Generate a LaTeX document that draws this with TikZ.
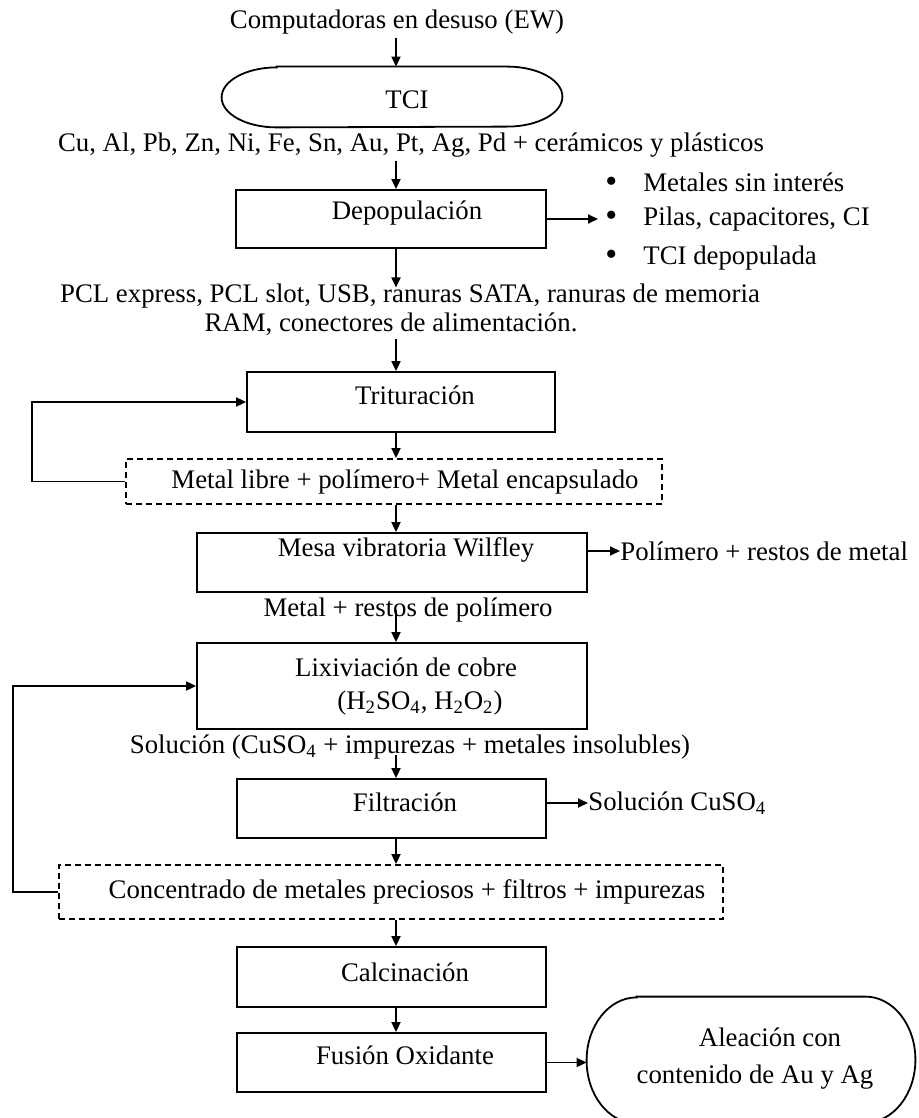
\documentclass[tikz,border=0pt]{standalone}
\usepackage{fontspec}
\setmainfont{Liberation Serif}
\usetikzlibrary{arrows.meta,fit,calc}
\newcommand{\fsz}{\fontsize{13.4pt}{16pt}\selectfont}
\newcommand{\bul}{\makebox[19pt][l]{\raisebox{-0.6pt}{\fontsize{17pt}{17pt}\selectfont\textbullet}}}
\begin{document}
\begin{tikzpicture}[x=0.5pt,y=-0.5pt,
  line/.style={line width=0.9pt, draw=black},
  arr/.style={line, -{Triangle[length=5pt,width=4.5pt]}},
  pbox/.style={line, inner sep=0pt},
  dbox/.style={pbox, dash pattern=on 3pt off 2pt},
  ghost/.style={inner sep=0pt},
  txt/.style={inner sep=1.5pt, font=\fsz},
  wtxt/.style={txt, anchor=west, inner sep=0pt}]
\useasboundingbox (0,0) rectangle (918,1118);
\fill[white] (0,0) rectangle (918,1118);
\coordinate (cx) at (396,0);
\coordinate (lx1) at (32,0);
\coordinate (lx2) at (13,0);

% source and start terminator
\node[txt] (src) at (397,22) {Computadoras en desuso (EW)};
\node[ghost, fit={(222,67) (562,127)}] (tci) {};
\draw[line] ([xshift=27.5pt]tci.north west) -- ([xshift=-27.5pt]tci.north east)
  arc[start angle=90,end angle=-90,x radius=27.5pt,y radius=15pt]
  -- ([xshift=27.5pt]tci.south west)
  arc[start angle=270,end angle=90,x radius=27.5pt,y radius=15pt] -- cycle;
\node[txt] (tcilab) at (407,100) {TCI};
\node[txt] (met) at (411,145) {Cu, Al, Pb, Zn, Ni, Fe, Sn, Au, Pt, Ag, Pd + cerámicos y plásticos};

% depopulation
\node[pbox, fit={(236,190) (546,248)}] (dep) {};
\node[txt] (deplab) at (407,213) {Depopulación};
\node[wtxt] (b1) at (605,183) {\bul Metales sin interés};
\node[wtxt] (b2) at (605,219) {\bul Pilas, capacitores, CI};
\node[wtxt] (b3) at (605,258) {\bul TCI depopulada};
\node[txt] (pcl) at (410,296) {PCL express, PCL slot, USB, ranuras SATA, ranuras de memoria};
\node[txt] (ram) at (391,324) {RAM, conectores de alimentación.};

% size reduction
\node[pbox, fit={(247,372) (555,432)}] (trit) {};
\node[txt] (tritlab) at (415,395) {Trituración};
\node[dbox, fit={(126,459) (662,504)}] (d1) {};
\node[txt] (d1lab) at (405,482) {Metal libre + polímero+ Metal encapsulado};

% gravity separation
\node[pbox, fit={(197,533) (587,592)}] (mesa) {};
\node[txt] (mesalab) at (406,550) {Mesa vibratoria Wilfley};
\node[wtxt] (pol) at (620,551) {Polímero + restos de metal};
\node[txt] (metal) at (408,610) {Metal + restos de polímero};

% copper leaching
\node[pbox, fit={(197,643) (587,729)}] (lix) {};
\node[txt] (lixlab) at (406,667) {Lixiviación de cobre};
\node[txt] (lixreag) at (420,703) {(H\textsubscript{2}SO\textsubscript{4}, H\textsubscript{2}O\textsubscript{2})};
\node[txt] (sol) at (410,747) {Solución (CuSO\textsubscript{4} + impurezas + metales insolubles)};

% filtration
\node[pbox, fit={(237,779) (546,838)}] (filt) {};
\node[txt] (filtlab) at (405,802) {Filtración};
\node[wtxt] (cuso) at (588,803) {Solución CuSO\textsubscript{4}};
\node[dbox, fit={(59,865) (723,919)}] (d2) {};
\node[txt] (d2lab) at (407,892) {Concentrado de metales preciosos + filtros + impurezas};

% thermal steps
\node[pbox, fit={(237,947) (546,1007)}] (calc) {};
\node[txt] (calclab) at (405,972) {Calcinación};
\node[pbox, fit={(237,1033) (546,1092)}] (fus) {};
\node[txt] (fuslab) at (405,1055) {Fusión Oxidante};

% end terminator
\node[ghost, fit={(587,997) (915,1123)}] (alloy) {};
\draw[line] ([xshift=25pt]alloy.north west) -- ([xshift=-25pt]alloy.north east)
  arc[start angle=90,end angle=-90,x radius=25pt,y radius=31.5pt]
  -- ([xshift=25pt]alloy.south west)
  arc[start angle=270,end angle=90,x radius=25pt,y radius=31.5pt] -- cycle;
\node[txt] (alloy1) at (770,1037) {Aleación con};
\node[txt] (alloy2) at (755,1077) {contenido de Au y Ag};

% main flow
\draw[arr] (src.south -| cx) -- (tci.north -| cx);
\draw[arr] (met.south -| cx) -- (dep.north -| cx);
\draw[arr] (dep.south -| cx) -- ($(pcl.north -| cx)+(0,7)$);
\draw[arr] (ram.south -| cx) -- (trit.north -| cx);
\draw[arr] (trit.south -| cx) -- (d1.north -| cx);
\draw[arr] (d1.south -| cx) -- (mesa.north -| cx);
\draw[arr] (metal.center -| cx) -- (lix.north -| cx);
\draw[arr] ($(sol.center -| cx)+(0,8)$) -- (filt.north -| cx);
\draw[arr] (filt.south -| cx) -- (d2.north -| cx);
\draw[arr] (d2.south -| cx) -- (calc.north -| cx);
\draw[arr] (calc.south -| cx) -- (fus.north -| cx);

% side outputs
\draw[arr] (dep.east) -- ([xshift=-3.5pt]b2.west);
\draw[arr] (pol.west -| mesa.east) -- (pol.west);
\draw[arr] (cuso.west -| filt.east) -- (cuso.west);
\draw[arr] (fus.east) -- (fus.east -| alloy.west);

% recycle loops
\draw[arr] (d1.west) -- (d1.west -| lx1) |- (trit.west);
\draw[arr] (d2.west) -- (d2.west -| lx2) |- (lix.west);
\end{tikzpicture}
\end{document}
